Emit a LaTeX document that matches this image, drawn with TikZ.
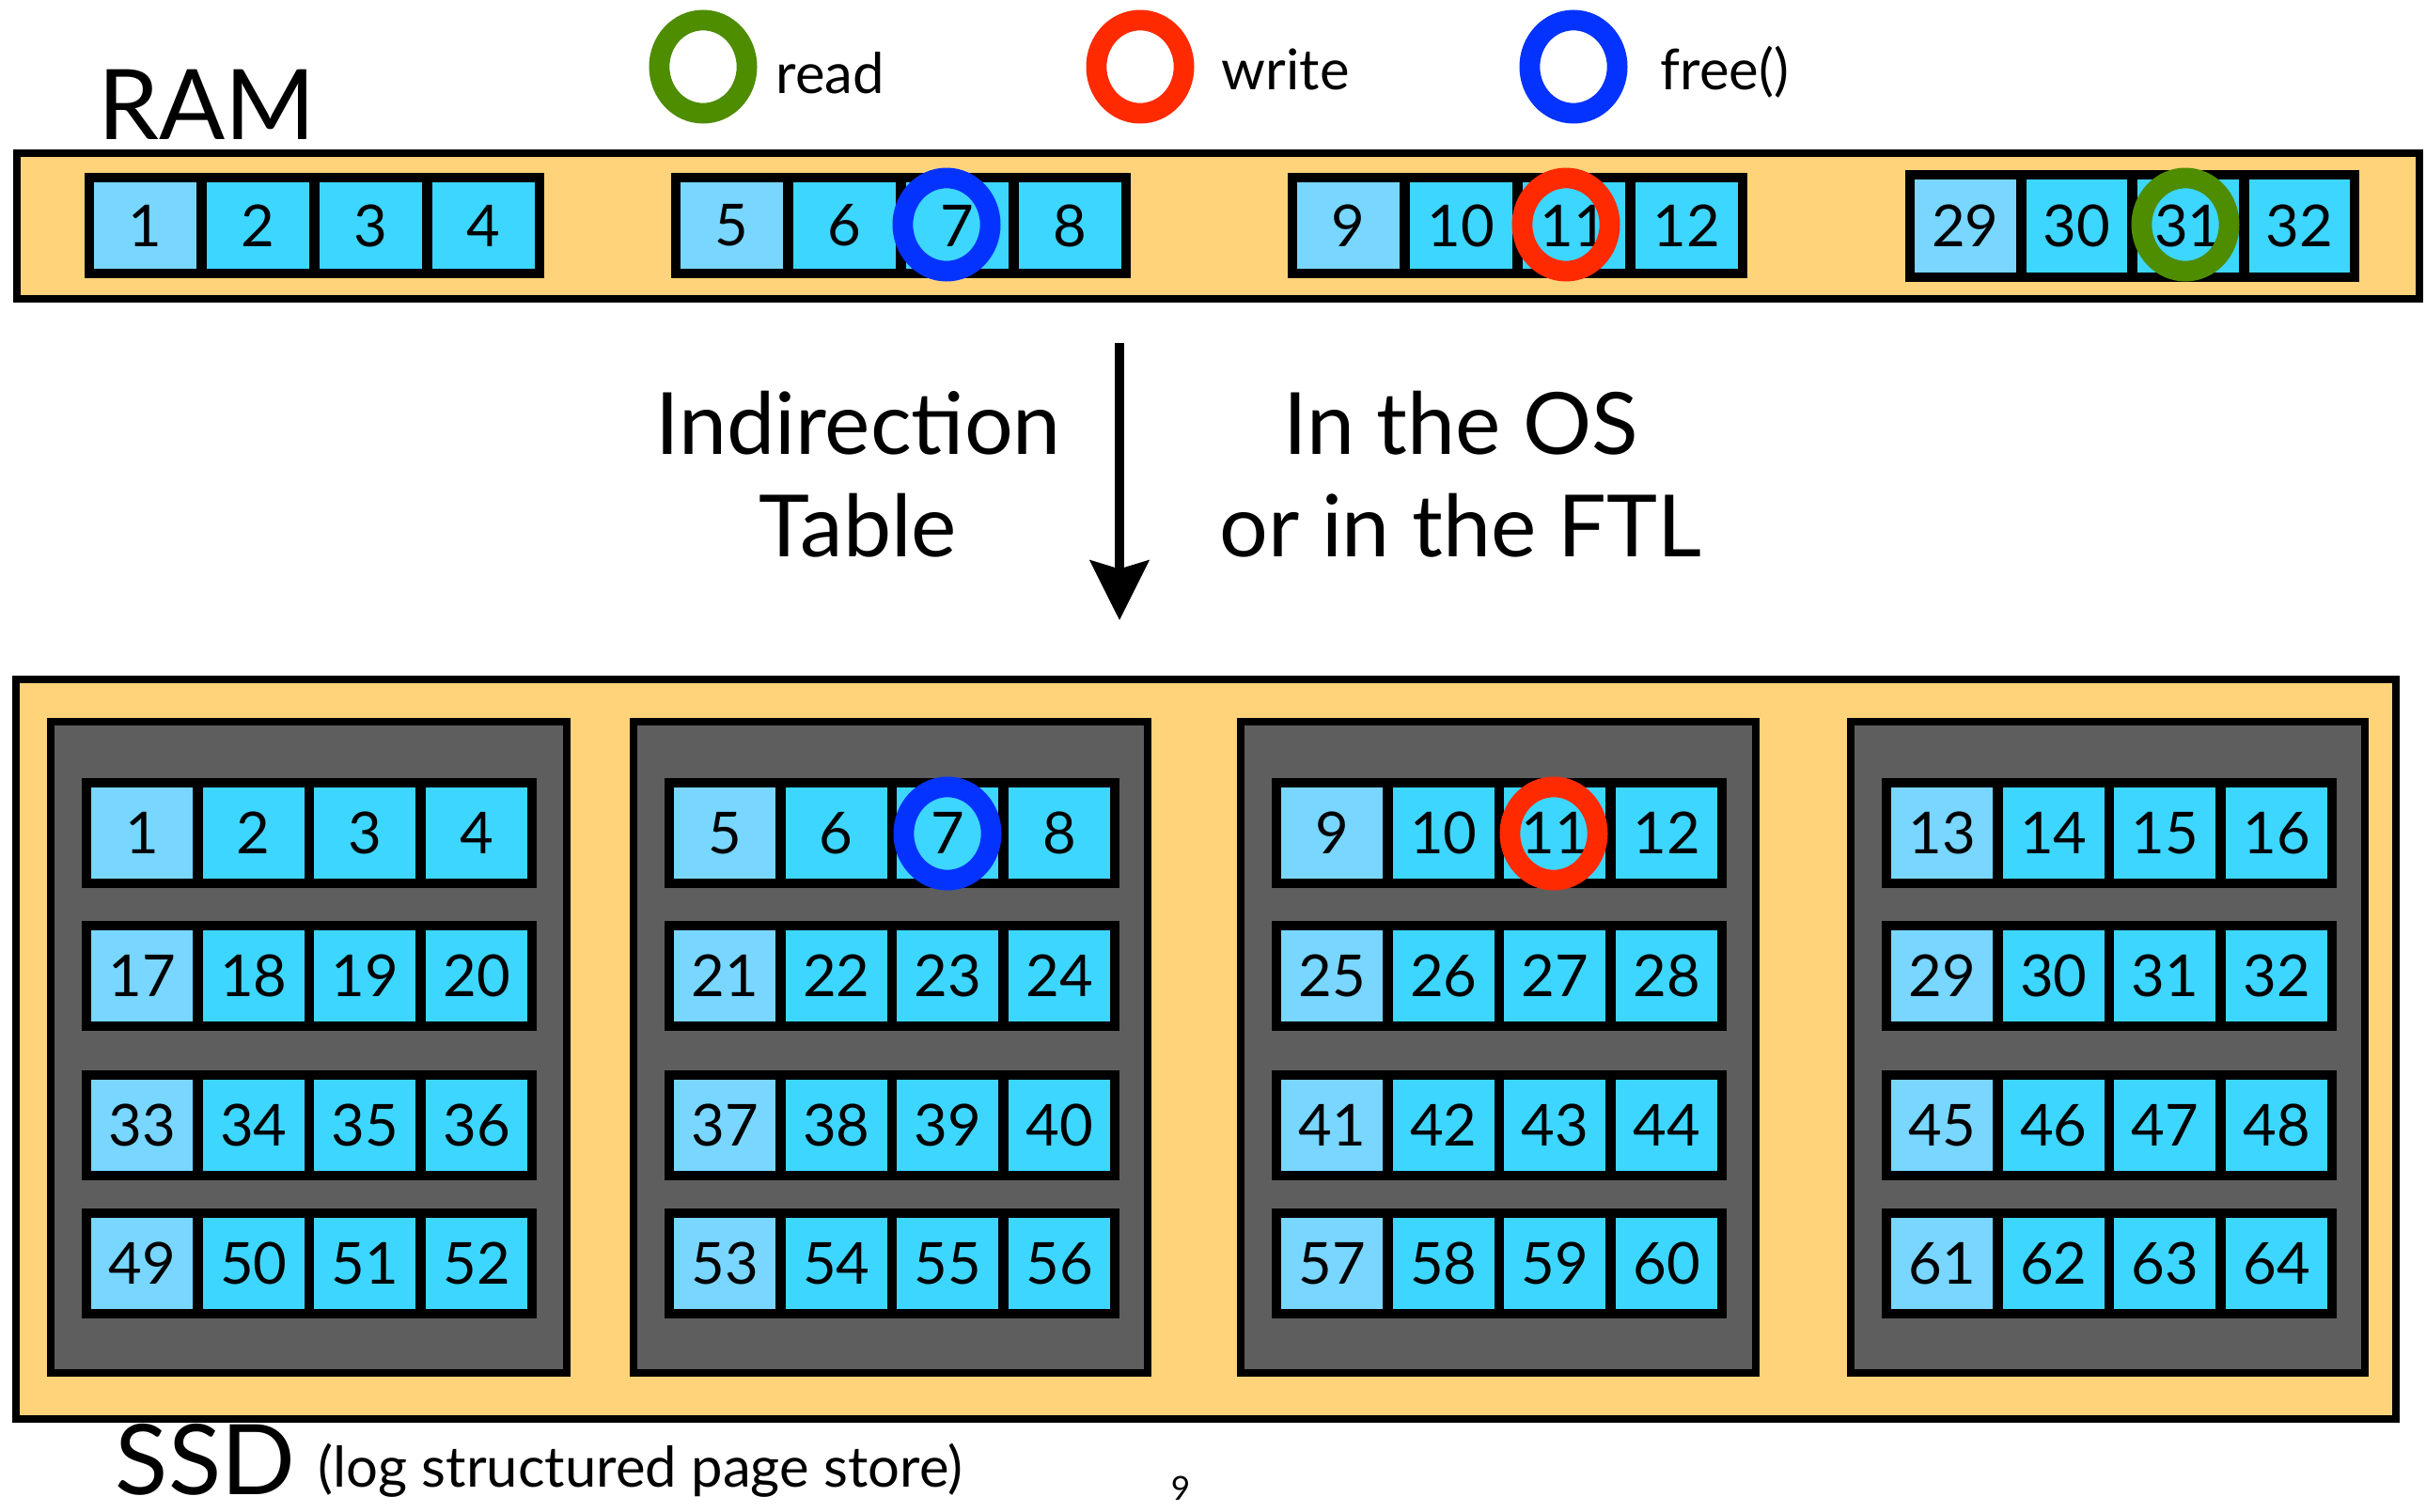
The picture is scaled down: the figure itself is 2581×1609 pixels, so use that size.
\documentclass[tikz,border=0pt]{standalone}
\usepackage{fontspec}
\setmainfont{Lato}
\usetikzlibrary{arrows.meta,shapes.geometric}

\definecolor{tray}{HTML}{FED37A}
\definecolor{chipgray}{HTML}{5E5E5E}
\definecolor{pagelight}{HTML}{78D6FF}
\definecolor{pagecyan}{HTML}{3DD6FF}
\definecolor{ringgreen}{HTML}{4E8C00}
\definecolor{ringred}{HTML}{FF2A00}
\definecolor{ringblue}{HTML}{0433FF}

% one drawing unit = 0.01cm = 0.28453pt
\tikzset{
  page/.style={inner sep=0pt, outer sep=0pt, anchor=north west,
    font=\fontsize{17.5pt}{20pt}\selectfont},
  tray/.style={fill=tray, draw=black, line width=2.28pt},
  chip/.style={fill=chipgray, draw=black, line width=2.28pt},
  ring/.style={ellipse, draw=#1, line width=6.2pt, inner sep=0pt,
    minimum width=26.5pt, minimum height=28.2pt},
  legendtext/.style={anchor=base west, inner sep=0pt, font=\fontsize{17pt}{20pt}\selectfont},
  bigtitle/.style={anchor=base west, inner sep=0pt, font=\fontsize{29.5pt}{34pt}\selectfont},
  midtext/.style={anchor=base, inner sep=0pt, font=\fontsize{26pt}{30pt}\selectfont},
}

% #1 name prefix, #2 left, #3 top, #4 cell width, #5 cell height, #6 gap, #7 numbers
\newcommand{\pagerow}[7]{%
  \pgfmathsetmacro\rowW{20+4*#4+3*#6}%
  \pgfmathsetmacro\rowH{20+#5}%
  \fill[black] (#2,#3) rectangle ++(\rowW,\rowH);
  \foreach \num [count=\k from 0] in {#7} {
    \pgfmathsetmacro\px{#2+10+\k*(#4+#6)}
    \pgfmathsetmacro\py{#3+10}
    \ifnum\k=0 \def\pc{pagelight}\else\def\pc{pagecyan}\fi
    \node[page, fill=\pc, minimum width={#4*0.28453pt}, minimum height={#5*0.28453pt}]
      (#1-\num) at (\px,\py) {\num};
  }
}

\begin{document}
\begin{tikzpicture}[x=0.01cm,y=-0.01cm]
\useasboundingbox (0,0) rectangle (2581,1609);

% legend
\node[ring=ringgreen] (lgread) at (748,71) {};
\node[legendtext] (lgreadtxt) at (825,99) {read};
\node[ring=ringred] (lgwrite) at (1213,71) {};
\node[legendtext] (lgwritetxt) at (1299,95) {write};
\node[ring=ringblue] (lgfree) at (1674,71) {};
\node[legendtext] (lgfreetxt) at (1766,95) {free()};

% RAM
\node[bigtitle] (ramlabel) at (104,148) {RAM};
\draw[tray] (18,163) rectangle (2574,318);
\pagerow{ram}{90}{184}{109}{92}{11}{1,2,3,4}
\pagerow{ram}{714}{184}{109}{92}{11}{5,6,7,8}
\pagerow{ram}{1370}{184}{109}{92}{11}{9,10,11,12}
\pagerow{ram}{2027}{181}{107.5}{99}{11}{29,30,31,32}
\node[ring=ringblue] (ramfree) at (1007,239) {};
\node[ring=ringred] (ramwrite) at (1666,239) {};
\node[ring=ringgreen] (ramread) at (2325,239) {};

% mapping
\coordinate (maptop) at (1191,365);
\coordinate (maptip) at (1191,660);
\draw[line width=3.1pt, -{Stealth[length=18pt,width=17.6pt,inset=2.5pt]}] (maptop) -- (maptip);
\node[midtext] (ind1) at (913,483) {Indirection};
\node[midtext] (ind2) at (913,592) {Table};
\node[midtext] (os1) at (1554,483) {In the OS};
\node[midtext] (os2) at (1554,592) {or in the FTL};

% SSD
\draw[tray] (17,723) rectangle (2549,1510);
\foreach \cl/\cr [count=\c from 0] in {50/607, 670/1225, 1316/1872, 1965/2520} {
  \draw[chip] (\cl+4,768) rectangle (\cr-4,1461);
  \foreach \rt [count=\r from 0] in {828,980,1139,1286} {
    \pgfmathtruncatemacro\na{\r*16+\c*4+1}
    \pgfmathtruncatemacro\nb{\na+1}
    \pgfmathtruncatemacro\nc{\na+2}
    \pgfmathtruncatemacro\nd{\na+3}
    \pagerow{ssd}{\cl+37}{\rt}{108}{97}{10.67}{\na,\nb,\nc,\nd}
  }
}
\node[ring=ringblue] (ssdfree) at (1008,887) {};
\node[ring=ringred] (ssdwrite) at (1653,887) {};

\node[bigtitle] (ssdlabel) at (122,1590) {SSD};
\node[legendtext] (ssdnote) at (338,1582) {(log structured page store)};
\node[anchor=base, inner sep=0pt, font=\fontsize{10pt}{12pt}\selectfont] (pagenum) at (1256,1596) {9};
\end{tikzpicture}
\end{document}
